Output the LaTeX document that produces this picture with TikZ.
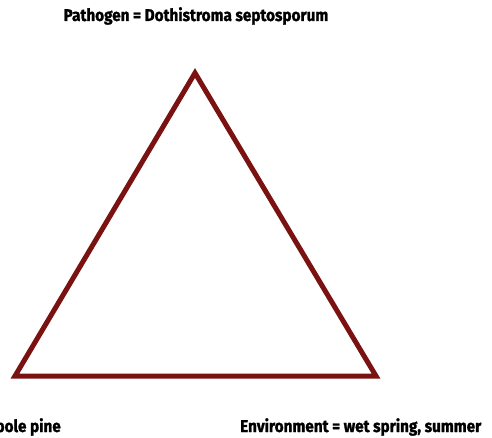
\documentclass[tikz,border=0pt]{standalone}
\usepackage{fontspec}
\newfontfamily\labelfont{Fira Sans}[FakeStretch=0.90, FakeBold=1.4]
\definecolor{trired}{RGB}{122,18,18}
\begin{document}
\begin{tikzpicture}[x=1pt, y=-1pt, every node/.style={font=\labelfont\bfseries\fontsize{17}{19}\selectfont, inner sep=0pt}]
  \useasboundingbox (0,0) rectangle (492,438);
  \clip (0,0) rectangle (492,438);
  % Triangle
  \coordinate (P) at (195,73);
  \coordinate (H) at (15,376);
  \coordinate (E) at (376,376);
  \draw[trired, line width=5pt, line join=miter] (P) -- (H) -- (E) -- cycle;
  % Labels
  \node[anchor=base] (pathogen) at (196,21) {Pathogen = Dothistroma septosporum};
  \node[anchor=base east] (host) at (61,432) {Host = Lodgepole pine};
  \node[anchor=base west] (environment) at (240,432) {Environment = wet spring, summer};
\end{tikzpicture}
\end{document}
